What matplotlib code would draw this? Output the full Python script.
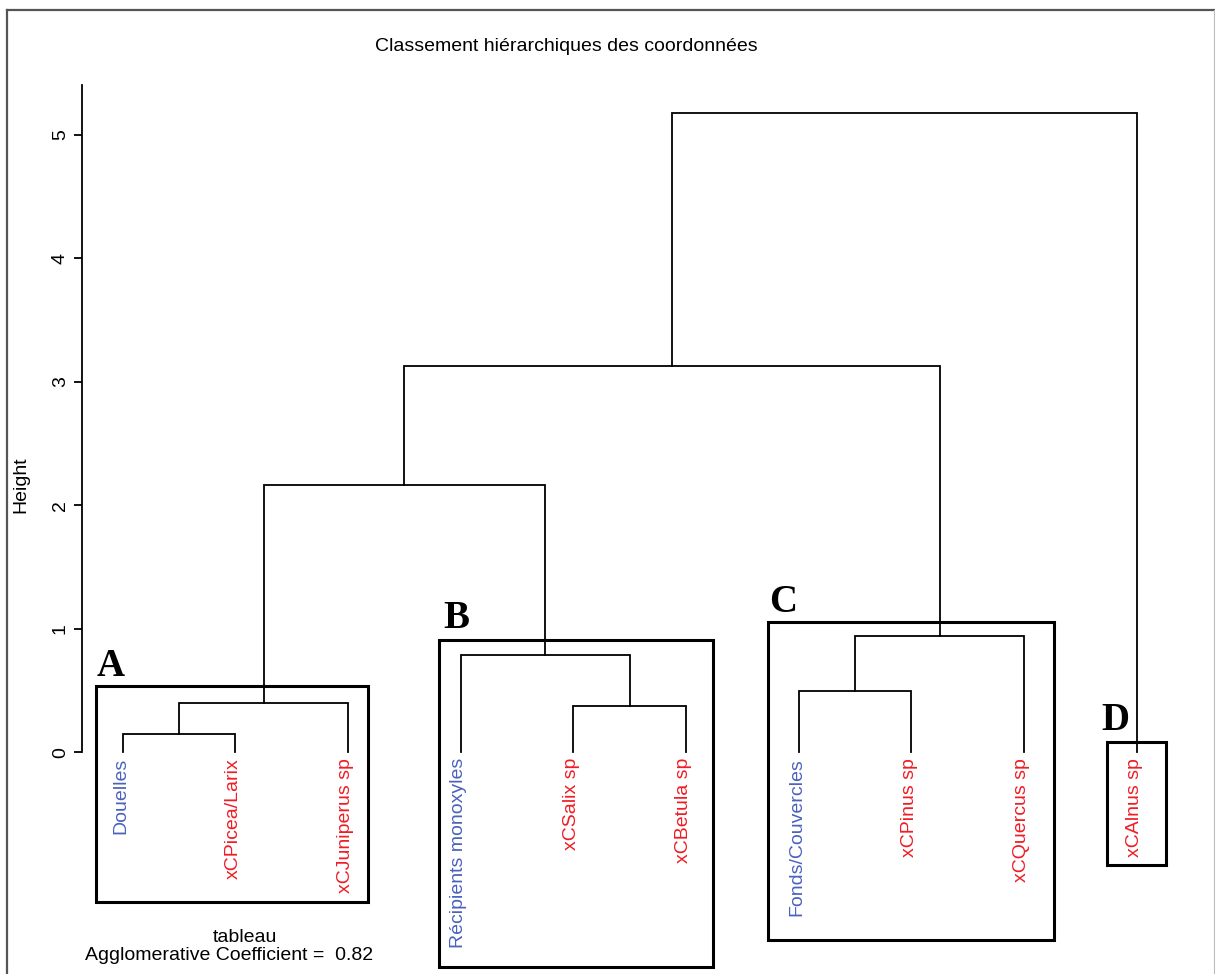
import matplotlib
matplotlib.use("Agg")
import matplotlib.pyplot as plt
from matplotlib.lines import Line2D
from matplotlib.patches import Rectangle

# ---------------- data ----------------
leaf_labels = ["Douelles", "xCPicea/Larix", "xCJuniperus sp",
               "Récipients monoxyles", "xCSalix sp", "xCBetula sp",
               "Fonds/Couvercles", "xCPinus sp", "xCQuercus sp", "xCAlnus sp"]
leaf_groups = ["obj", "sp", "sp", "obj", "sp", "sp", "obj", "sp", "sp", "sp"]
# R-style merge matrix (negative = leaf index, positive = earlier merge step)
merge_left = [-1, -5, -7, 1, -4, 3, 4, 7, 8]
merge_right = [-2, -6, -8, -3, 2, -9, 5, 6, -10]
merge_height = [0.146, 0.375, 0.497, 0.397, 0.787, 0.938, 2.165, 3.125, 5.177]
y_ticks = [0, 1, 2, 3, 4, 5]
cluster_names = ["A", "B", "C", "D"]
agglomerative_coef = 0.82

# ---------------- style ----------------
W, H, DPI = 1215, 974, 100
SANS = ["Liberation Sans", "DejaVu Sans"]
SERIF = ["Liberation Serif", "DejaVu Serif"]
col = {"obj": "#4a62bd", "sp": "#f01c24"}
FS = 14

fig = plt.figure(figsize=(W / DPI, H / DPI), dpi=DPI)

def fx(px):
    return px / W

def fy(py):
    return 1 - py / H

# axes placement (pixels): x 81.7 -> 1180, y 85 -> 752.3
ax = fig.add_axes([fx(81.7), fy(752.3), fx(1180) - fx(81.7), fy(85) - fy(752.3)])
ax.set_xlim(0.636, 10.384)
ax.set_ylim(0, 5.403)
for s in ["top", "right", "bottom"]:
    ax.spines[s].set_visible(False)
ax.spines["left"].set_linewidth(1.3)
ax.set_xticks([])
ax.set_yticks(y_ticks)
ax.set_yticklabels([str(t) for t in y_ticks], rotation=90, va="center",
                   fontsize=FS, family=SANS)
ax.tick_params(axis="y", length=5.8, width=1.3, pad=3.5)

# ---------------- dendrogram ----------------
lw = 1.3
xpos = {}
hpos = {}
for i in range(len(leaf_labels)):
    xpos[-(i + 1)] = i + 1
    hpos[-(i + 1)] = 0.0
for k, (a, b, h) in enumerate(zip(merge_left, merge_right, merge_height)):
    xa, xb = xpos[a], xpos[b]
    ax.plot([xa, xa, xb, xb], [hpos[a], h, h, hpos[b]], color="black",
            lw=lw, solid_joinstyle="miter", clip_on=False)
    xpos[k + 1] = (xa + xb) / 2
    hpos[k + 1] = h

# leaf labels
lab_off = 0.045
for i, (lab, g) in enumerate(zip(leaf_labels, leaf_groups)):
    ax.text(i + 1 - 0.02, -lab_off, lab, rotation=90, ha="center", va="top",
            color=col[g], fontsize=FS, family=SANS, clip_on=False)

# ---------------- cluster boxes (data coords) ----------------
boxes = [(0.760, 3.180, -1.210, 0.539),
         (3.810, 6.237, -1.741, 0.909),
         (6.725, 9.268, -1.520, 1.053),
         (9.733, 10.257, -0.913, 0.081)]
letters_pos = [(0.772, 0.618), (3.843, 1.006), (6.737, 1.138), (9.683, 0.181)]
for (x0, x1, y0, y1), name, (lx, ly) in zip(boxes, cluster_names, letters_pos):
    ax.add_patch(Rectangle((x0, y0), x1 - x0, y1 - y0, fill=False,
                           edgecolor="black", lw=2.2, clip_on=False,
                           joinstyle="miter"))
    ax.text(lx, ly, name, ha="left", va="baseline", fontsize=28,
            fontweight="bold", family=SERIF, clip_on=False)

# ---------------- texts ----------------
fig.text(fx(566.4), fy(46.7), "Classement hiérarchiques des coordonnées",
         ha="center", va="center", fontsize=FS, family=SANS)
fig.text(fx(21), fy(485), "Height", rotation=90, ha="center", va="center",
         fontsize=FS, family=SANS)
fig.text(fx(245), fy(937.7), "tableau", ha="center", va="center",
         fontsize=FS, family=SANS)
fig.text(fx(229.4), fy(955.7),
         "Agglomerative Coefficient =  %.2f" % agglomerative_coef,
         ha="center", va="center", fontsize=FS, family=SANS)

# ---------------- outer frame ----------------
fig.add_artist(Line2D([fx(7), fx(7)], [fy(10), fy(980)], color="#555555", lw=1.6))
fig.add_artist(Line2D([fx(7), fx(1214.3)], [fy(10), fy(10)], color="#555555", lw=1.6))
fig.add_artist(Line2D([fx(1214.3), fx(1214.3)], [fy(10), fy(980)], color="#bbbbbb", lw=0.8))

fig.savefig("out.png", dpi=DPI)
